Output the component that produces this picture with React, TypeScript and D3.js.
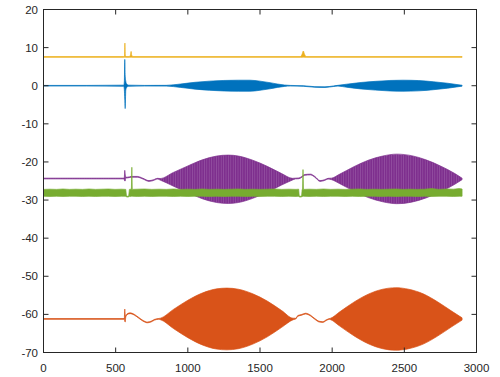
import React from "react";
import * as d3 from "d3";

const W = 500;
const H = 377;
const box = { left: 43.5, right: 476.5, top: 9.5, bottom: 352.5 };

const xTicks = [0, 500, 1000, 1500, 2000, 2500, 3000];
const yTicks = [20, 10, 0, -10, -20, -30, -40, -50, -60, -70];

// Series 1 (blue) envelope
const blueX = [0, 300, 556, 560, 563, 566, 570, 575, 590, 700, 850, 950, 1050, 1150, 1250, 1350, 1430, 1500, 1570, 1620, 1670, 1710, 1800, 1880, 1950, 2010, 2040, 2100, 2200, 2300, 2400, 2490, 2600, 2700, 2800, 2900];
const blueHi = [0.08, 0.08, 0.15, 1.0, 6.9, 2.5, 1.2, 0.5, 0.15, 0.08, 0.1, 0.45, 0.9, 1.2, 1.38, 1.45, 1.45, 1.2, 0.8, 0.45, 0.18, 0.08, 0.0, -0.25, -0.3, -0.05, 0.1, 0.4, 0.85, 1.15, 1.38, 1.45, 1.35, 1.05, 0.65, 0.12];
const blueLo = [-0.08, -0.08, -0.15, -1.0, -3.5, -6.0, -1.2, -0.5, -0.15, -0.08, -0.1, -0.45, -0.9, -1.2, -1.38, -1.45, -1.45, -1.2, -0.8, -0.45, -0.18, -0.08, -0.15, -0.4, -0.45, -0.2, -0.1, -0.4, -0.85, -1.15, -1.38, -1.45, -1.35, -1.05, -0.65, -0.12];

// Series 2 (orange)
const orangeX = [0, 556, 560, 563, 566, 570, 578, 600, 630, 660, 690, 720, 745, 770, 795, 810, 900, 1000, 1100, 1200, 1270, 1350, 1450, 1550, 1650, 1730, 1748, 1762, 1790, 1815, 1850, 1880, 1910, 1935, 1960, 1980, 1990, 2050, 2150, 2250, 2350, 2440, 2530, 2630, 2730, 2830, 2900];
const orangeHi = [-61.1, -61.1, -60.9, -58.6, -60.0, -60.5, -59.9, -59.6, -60.0, -60.8, -61.6, -62.0, -61.8, -61.3, -61.1, -61.0, -58.7, -56.3, -54.4, -53.3, -53.1, -53.4, -54.6, -56.5, -59.0, -61.0, -61.0, -60.3, -60.0, -59.7, -60.2, -61.1, -61.8, -61.9, -61.4, -61.1, -61.0, -59.4, -56.8, -54.7, -53.4, -53.0, -53.4, -54.6, -56.7, -59.2, -60.9];
const orangeLo = [-61.3, -61.3, -61.1, -61.8, -62.0, -60.7, -60.1, -59.8, -60.2, -61.0, -61.8, -62.2, -62.0, -61.5, -61.3, -61.4, -63.7, -66.1, -68.0, -69.1, -69.3, -69.0, -67.8, -65.9, -63.4, -61.4, -61.2, -60.5, -60.2, -59.9, -60.4, -61.3, -62.0, -62.1, -61.6, -61.3, -61.4, -63.0, -65.6, -67.7, -69.0, -69.4, -69.0, -67.8, -65.7, -63.2, -61.5];

// Series 3 (yellow)
const yellowX = [0, 556, 561, 564, 567, 572, 596, 603, 607, 611, 620, 1780, 1792, 1800, 1808, 1820, 2900];
const yellowHi = [7.65, 7.65, 7.7, 11.2, 7.9, 7.65, 7.65, 8.2, 9.0, 8.0, 7.65, 7.65, 8.3, 9.1, 8.3, 7.65, 7.65];
const yellowLo = [7.45, 7.45, 7.45, 7.5, 7.45, 7.45, 7.45, 7.45, 7.5, 7.45, 7.45, 7.45, 7.45, 7.5, 7.45, 7.45, 7.45];

// Series 4 (purple)
const purpleX = [0, 556, 560, 563, 566, 570, 580, 610, 650, 690, 730, 760, 790, 808, 900, 1000, 1100, 1200, 1280, 1350, 1450, 1550, 1650, 1725, 1745, 1770, 1790, 1810, 1850, 1880, 1916, 1945, 1972, 1996, 2050, 2150, 2250, 2350, 2447, 2550, 2650, 2750, 2850, 2900];
const purpleHi = [-24.25, -24.25, -24.0, -22.2, -23.2, -24.0, -24.0, -23.8, -23.8, -24.3, -24.9, -24.7, -24.3, -24.35, -22.75, -21.05, -19.45, -18.45, -18.2, -18.45, -19.55, -21.15, -23.05, -24.3, -24.25, -24.2, -23.8, -23.3, -23.2, -23.8, -24.9, -24.7, -24.3, -24.25, -23.25, -21.25, -19.55, -18.45, -17.95, -18.35, -19.45, -21.05, -23.05, -24.25];
const purpleLo = [-24.45, -24.45, -24.7, -25.0, -25.0, -24.2, -24.2, -24.0, -24.0, -24.5, -25.1, -24.9, -24.5, -24.75, -26.35, -28.05, -29.65, -30.65, -30.9, -30.65, -29.55, -27.95, -26.05, -24.75, -24.45, -24.4, -24.0, -23.5, -23.4, -24.0, -25.1, -24.9, -24.5, -24.65, -25.65, -27.65, -29.35, -30.45, -30.95, -30.55, -29.45, -27.85, -25.85, -24.65];

// Series 5 (green)
const greenX = [0, 45, 90, 135, 180, 225, 270, 315, 360, 405, 450, 495, 540, 570, 575, 590, 595, 606, 609, 612, 615, 650, 700, 750, 800, 850, 900, 950, 1000, 1050, 1100, 1150, 1200, 1250, 1300, 1350, 1400, 1450, 1500, 1550, 1600, 1650, 1700, 1750, 1768, 1772, 1788, 1792, 1795, 1798, 1801, 1840, 1890, 1940, 1990, 2040, 2090, 2140, 2190, 2240, 2290, 2340, 2390, 2440, 2490, 2540, 2590, 2640, 2690, 2740, 2790, 2840, 2880, 2900];
const greenHi = [-27.2, -27.15, -27.2, -27.1, -27.2, -27.15, -27.2, -27.1, -27.2, -27.15, -27.1, -27.2, -27.15, -27.2, -29.0, -29.0, -27.2, -27.15, -27.2, -21.4, -27.2, -27.15, -27.1, -27.2, -27.15, -27.2, -27.1, -27.2, -27.15, -27.2, -27.1, -27.2, -27.15, -27.2, -27.15, -27.1, -27.2, -27.15, -27.2, -27.15, -27.1, -27.2, -27.15, -27.2, -27.15, -29.0, -29.0, -27.2, -27.2, -22.0, -27.2, -27.15, -27.2, -27.1, -27.2, -27.15, -27.2, -27.15, -27.1, -27.2, -27.15, -27.2, -27.15, -27.1, -27.2, -27.15, -27.2, -27.15, -27.0, -27.2, -27.1, -27.15, -27.0, -27.1];
const greenLo = [-29.0, -29.05, -29.0, -29.05, -29.0, -29.0, -29.05, -29.0, -29.05, -29.0, -29.0, -29.05, -29.0, -29.0, -29.2, -29.2, -29.0, -29.05, -29.0, -29.0, -29.0, -29.05, -29.0, -29.05, -29.0, -29.0, -29.05, -29.0, -29.05, -29.0, -29.0, -29.05, -29.0, -29.05, -29.0, -29.0, -29.05, -29.0, -29.05, -29.0, -29.0, -29.05, -29.0, -29.05, -29.0, -29.2, -29.2, -29.0, -29.05, -29.0, -29.0, -29.05, -29.0, -29.05, -29.0, -29.0, -29.05, -29.0, -29.05, -29.0, -29.0, -29.05, -29.0, -29.05, -29.0, -29.0, -29.05, -29.0, -29.05, -29.0, -29.0, -29.05, -29.0, -29.0];

const seriesList = [
  { name: "blue", color: "#0072BD", fill: "#0072BD", xs: blueX, hi: blueHi, lo: blueLo, curve: d3.curveMonotoneX },
  { name: "orange", color: "#D95319", fill: "#D95319", xs: orangeX, hi: orangeHi, lo: orangeLo, curve: d3.curveMonotoneX },
  { name: "yellow", color: "#EDB120", fill: "#EDB120", xs: yellowX, hi: yellowHi, lo: yellowLo, curve: d3.curveMonotoneX },
  { name: "purple", color: "#7E2F8E", fill: "url(#purpleStripes)", xs: purpleX, hi: purpleHi, lo: purpleLo, curve: d3.curveMonotoneX },
  { name: "green", color: "#77AC30", fill: "#77AC30", xs: greenX, hi: greenHi, lo: greenLo, curve: d3.curveLinear },
];

export default function App() {
  const x = d3.scaleLinear().domain([0, 3000]).range([box.left, box.right]);
  const y = d3.scaleLinear().domain([-70, 20]).range([box.bottom, box.top]);
  const font = "'Liberation Sans', Arial, Helvetica, sans-serif";
  const axisColor = "#262626";
  const tickLen = 5;

  return (
    <svg
      width={W}
      height={H}
      style={{ position: "absolute", left: 0, top: 0, background: "#fff" }}
    >
      <defs>
        <clipPath id="plotClip">
          <rect x={box.left} y={box.top} width={box.right - box.left} height={box.bottom - box.top} />
        </clipPath>
        <pattern id="purpleStripes" width={2.4} height={10} patternUnits="userSpaceOnUse">
          <rect x={0} y={0} width={2.4} height={10} fill="#7E2F8E" />
          <rect x={0} y={0} width={0.7} height={10} fill="#A56CB0" opacity={0.6} />
        </pattern>
      </defs>
      <rect x={0} y={0} width={W} height={H} fill="#fff" />
      <g clipPath="url(#plotClip)">
        {seriesList.map((s) => {
          const idx = d3.range(s.xs.length);
          const area = d3
            .area<number>()
            .x((i) => x(s.xs[i]))
            .y0((i) => y(s.lo[i]))
            .y1((i) => y(s.hi[i]))
            .curve(s.curve);
          return (
            <path
              key={s.name}
              d={area(idx) || ""}
              fill={s.fill}
              stroke={s.color}
              strokeWidth={0.7}
              strokeLinejoin="round"
            />
          );
        })}
      </g>
      <rect
        x={box.left}
        y={box.top}
        width={box.right - box.left}
        height={box.bottom - box.top}
        fill="none"
        stroke={axisColor}
        strokeWidth={1}
      />
      {xTicks.map((t) => (
        <g key={"x" + t}>
          <line x1={x(t)} x2={x(t)} y1={box.bottom} y2={box.bottom - tickLen} stroke={axisColor} strokeWidth={1} />
          <line x1={x(t)} x2={x(t)} y1={box.top} y2={box.top + tickLen} stroke={axisColor} strokeWidth={1} />
          <text x={x(t)} y={371.5} textAnchor="middle" fontFamily={font} fontSize={11.5} fill={axisColor}>
            {t}
          </text>
        </g>
      ))}
      {yTicks.map((t) => (
        <g key={"y" + t}>
          <line x1={box.left} x2={box.left + tickLen} y1={y(t)} y2={y(t)} stroke={axisColor} strokeWidth={1} />
          <line x1={box.right} x2={box.right - tickLen} y1={y(t)} y2={y(t)} stroke={axisColor} strokeWidth={1} />
          <text x={38} y={y(t)} dy="0.35em" textAnchor="end" fontFamily={font} fontSize={11.5} fill={axisColor}>
            {t}
          </text>
        </g>
      ))}
    </svg>
  );
}
